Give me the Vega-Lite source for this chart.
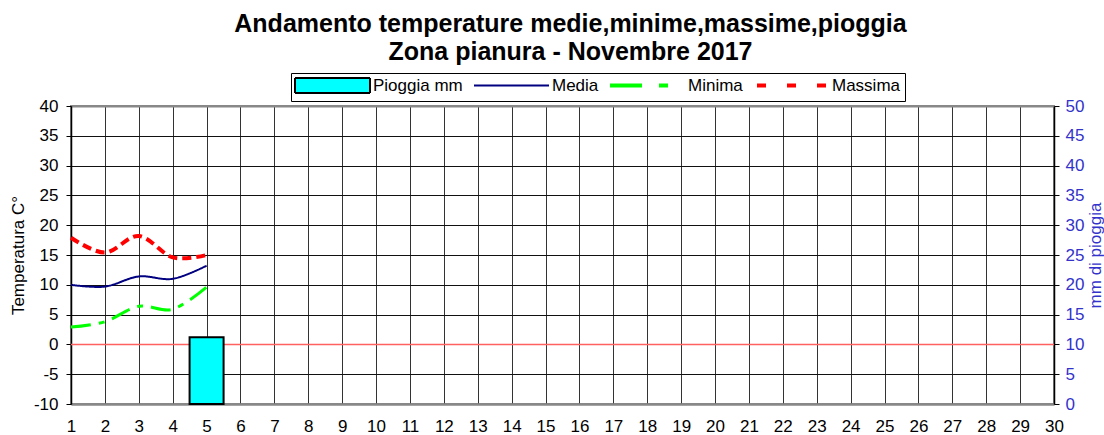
{
  "$schema": "https://vega.github.io/schema/vega-lite/v6.json",
  "autosize": "none",
  "width": 983,
  "height": 298,
  "padding": {"left": 71, "top": 106, "right": 50, "bottom": 31},
  "background": "white",
  "config": {
    "font": "Liberation Sans",
    "view": {"stroke": "#888888", "strokeWidth": 2},
    "axis": {"labelFont": "Liberation Sans", "titleFont": "Liberation Sans", "labelColor": "black", "titleColor": "black", "titleFontWeight": "normal"},
    "axisX": {"labelOverlap": false}
  },
  "title": {
    "text": ["Andamento temperature medie,minime,massime,pioggia", "Zona pianura - Novembre 2017"],
    "font": "Liberation Sans",
    "fontSize": 25,
    "fontWeight": "bold",
    "lineHeight": 28,
    "anchor": "middle",
    "color": "black",
    "offset": 8,
    "dx": 8
  },
  "datasets": {
    "temps": [
      {"giorno": 1, "serie": "Media", "temp": 10.0},
      {"giorno": 2, "serie": "Media", "temp": 9.7},
      {"giorno": 3, "serie": "Media", "temp": 11.4},
      {"giorno": 4, "serie": "Media", "temp": 11.0},
      {"giorno": 5, "serie": "Media", "temp": 13.2},
      {"giorno": 1, "serie": "Minima", "temp": 2.9},
      {"giorno": 2, "serie": "Minima", "temp": 3.8},
      {"giorno": 3, "serie": "Minima", "temp": 6.4},
      {"giorno": 4, "serie": "Minima", "temp": 5.9},
      {"giorno": 5, "serie": "Minima", "temp": 9.6},
      {"giorno": 1, "serie": "Massima", "temp": 17.9},
      {"giorno": 2, "serie": "Massima", "temp": 15.4},
      {"giorno": 3, "serie": "Massima", "temp": 18.2},
      {"giorno": 4, "serie": "Massima", "temp": 14.6},
      {"giorno": 5, "serie": "Massima", "temp": 15.0}
    ],
    "pioggia": [
      {"giorno": 5, "mm": 11.2}
    ],
    "zero": [
      {"temp": 0}
    ]
  },
  "layer": [
    {
      "data": {"name": "zero"},
      "mark": {"type": "rule", "color": "#ff6060", "strokeWidth": 1.5},
      "encoding": {
        "y": {"field": "temp", "type": "quantitative", "scale": {"domain": [-10, 40], "nice": false, "zero": false}, "axis": null}
      }
    },
    {
      "data": {"name": "pioggia"},
      "mark": {"type": "bar", "color": "#00ffff", "stroke": "black", "strokeWidth": 2, "width": 34},
      "encoding": {
        "x": {
          "field": "giorno", "type": "quantitative",
          "scale": {"domain": [1, 30], "nice": false, "zero": false, "padding": 0},
          "axis": {
            "title": null, "values": [1,2,3,4,5,6,7,8,9,10,11,12,13,14,15,16,17,18,19,20,21,22,23,24,25,26,27,28,29,30],
            "format": "d", "labelFontSize": 17, "ticks": false, "labelPadding": 14, "labelOverlap": false,
            "grid": true, "gridColor": "#333333", "gridWidth": 1,
            "domainColor": "#888888", "domainWidth": 2, "labelFlush": false
          }
        },
        "y": {
          "field": "mm", "type": "quantitative",
          "scale": {"domain": [0, 50], "nice": false},
          "axis": {
            "orient": "right", "title": "mm di pioggia", "titleAngle": 270, "titleFontSize": 17, "titleColor": "#3333cc",
            "labelColor": "#3333cc", "labelFontSize": 17, "values": [0, 5, 10, 15, 20, 25, 30, 35, 40, 45, 50],
            "grid": false, "tickSize": 5, "tickColor": "black", "domainColor": "black", "domainWidth": 1.5,
            "labelPadding": 6, "titlePadding": 21
          }
        }
      }
    },
    {
      "data": {"name": "temps"},
      "mark": {"type": "line", "interpolate": "cardinal"},
      "encoding": {
        "x": {
          "field": "giorno", "type": "quantitative",
          "scale": {"domain": [1, 30], "nice": false, "zero": false, "padding": 0},
          "axis": {
            "title": null, "values": [1,2,3,4,5,6,7,8,9,10,11,12,13,14,15,16,17,18,19,20,21,22,23,24,25,26,27,28,29,30],
            "format": "d", "labelFontSize": 17, "ticks": false, "labelPadding": 14, "labelOverlap": false,
            "grid": true, "gridColor": "#333333", "gridWidth": 1,
            "domainColor": "#888888", "domainWidth": 2, "labelFlush": false
          }
        },
        "y": {
          "field": "temp", "type": "quantitative",
          "scale": {"domain": [-10, 40], "nice": false, "zero": false},
          "axis": {
            "orient": "left", "title": "Temperatura C°", "titleFontSize": 17,
            "values": [-10, -5, 0, 5, 10, 15, 20, 25, 30, 35, 40], "labelFontSize": 17,
            "labelExpr": "'' + datum.value",
            "grid": true,
            "gridColor": {"condition": {"test": "datum.value === 40 || datum.value === -10", "value": "#888888"}, "value": "#111111"},
            "gridWidth": {"condition": {"test": "datum.value === 40 || datum.value === -10", "value": 2}, "value": 1},
            "tickSize": 5, "tickColor": "black", "domainColor": "black", "domainWidth": 1.5,
            "labelPadding": 8, "titlePadding": 6
          }
        },
        "color": {
          "field": "serie", "type": "nominal",
          "scale": {"domain": ["Pioggia mm", "Media", "Minima", "Massima"], "range": ["#000000", "#000080", "#00ff00", "#ff0000"]},
          "legend": {
            "title": null,
            "orient": "none",
            "legendX": 220,
            "legendY": -33,
            "direction": "horizontal",
            "strokeColor": "black",
            "fillColor": "white",
            "padding": 4,
            "labelFontSize": 17,
            "labelFont": "Liberation Sans",
            "labelColor": "black",
            "symbolSize": 225,
            "symbolStrokeWidth": 2,
            "symbolOffset": 0,
            "labelOffset": 61,
            "columnPadding": 7,
            "gridAlign": "none",
            "encode": {
              "symbols": {
                "update": {
                  "shape": [
                    {"test": "datum.value === 'Pioggia mm'", "value": "M-1.133,-1H8.867V1H-1.133Z"},
                    {"test": "datum.value === 'Media'", "value": "M-1.133,0H8.867"},
                    {"value": "M-1.133,-0.133H8.867M-1.133,0.133H8.867"}
                  ],
                  "fill": [
                    {"test": "datum.value === 'Pioggia mm'", "value": "#00ffff"},
                    {"value": "transparent"}
                  ],
                  "strokeDash": [
                    {"test": "datum.value === 'Minima'", "value": [32, 17, 9, 17]},
                    {"test": "datum.value === 'Massima'", "value": [0, 3, 9, 18]},
                    {"value": [1, 0]}
                  ],
                  "opacity": {"value": 1}
                }
              }
            }
          }
        },
        "strokeDash": {
          "field": "serie", "type": "nominal",
          "scale": {"domain": ["Media", "Minima", "Massima"], "range": [[1, 0], [20, 8, 6, 8], [9, 5]]},
          "legend": null
        },
        "strokeWidth": {
          "field": "serie", "type": "nominal",
          "scale": {"domain": ["Media", "Minima", "Massima"], "range": [2, 4, 4]},
          "legend": null
        }
      }
    }
  ],
  "resolve": {"scale": {"y": "independent"}}
}
